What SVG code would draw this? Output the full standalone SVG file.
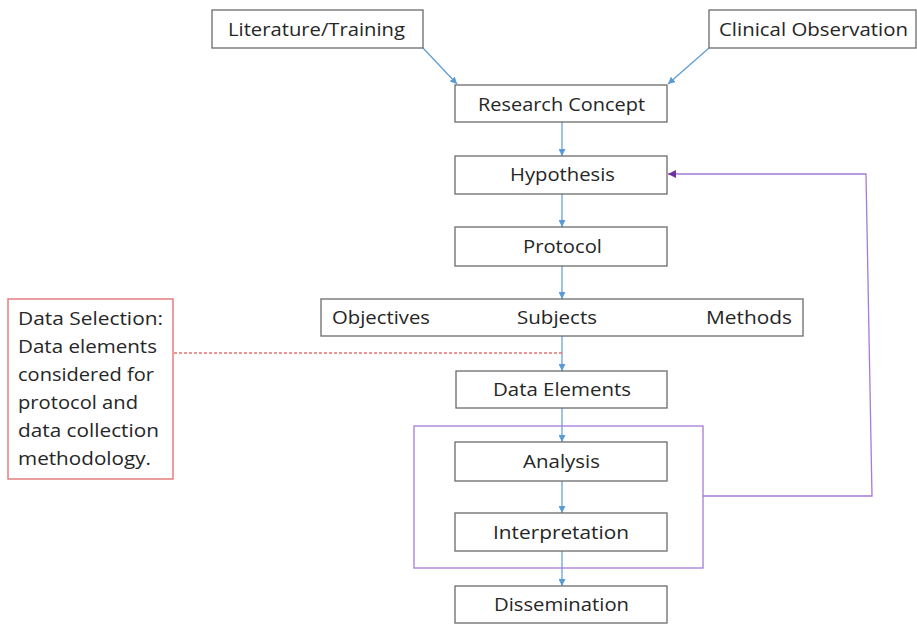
<svg xmlns="http://www.w3.org/2000/svg" width="917" height="624" viewBox="0 0 917 624">
<style>
.box{fill:#fff;stroke:#6b6b6b;stroke-width:1.3}
.t{font-family:"Open Sans","Liberation Sans",sans-serif;font-size:18px;fill:#262626}
.c{stroke:#5b9bd5;stroke-width:1.2;fill:none;marker-end:url(#ab)}
</style>
<defs>
<marker id="ab" viewBox="0 0 10 10" refX="10" refY="5" markerWidth="7" markerHeight="7" markerUnits="userSpaceOnUse" orient="auto"><path d="M0,0 L10,5 L0,10 z" fill="#5b9bd5"/></marker>
<marker id="ap" viewBox="0 0 10 10" refX="10" refY="5" markerWidth="8" markerHeight="8" markerUnits="userSpaceOnUse" orient="auto"><path d="M0,0 L10,5 L0,10 z" fill="#7030a0"/></marker>
</defs>
<rect width="917" height="624" fill="#fff"/>
<g id="connectors">
<line class="c" x1="423" y1="48" x2="457" y2="84"/>
<line class="c" x1="709" y1="48" x2="668" y2="84"/>
<line class="c" x1="562" y1="122" x2="562" y2="156"/>
<line class="c" x1="562" y1="194" x2="562" y2="227"/>
<line class="c" x1="562" y1="266" x2="562" y2="299"/>
<line class="c" x1="562" y1="336" x2="562" y2="371"/>
<line class="c" x1="562" y1="408" x2="562" y2="442"/>
<line class="c" x1="562" y1="481" x2="562" y2="513"/>
<line class="c" x1="562" y1="551" x2="562" y2="586"/>
<polyline points="703,496 872,496 866,174 668,174" fill="none" stroke="#a57bd6" stroke-width="1.3" marker-end="url(#ap)"/>
<line x1="174" y1="353" x2="562" y2="353" stroke="#e57373" stroke-width="1.3" stroke-dasharray="3,2"/>
</g>
<g id="literature"><rect class="box" x="212" y="10" width="211" height="38"/><text class="t" x="228" y="36" textLength="177" lengthAdjust="spacingAndGlyphs">Literature/Training</text></g>
<g id="clinical"><rect class="box" x="709" y="10" width="207" height="38"/><text class="t" x="719" y="36" textLength="189" lengthAdjust="spacingAndGlyphs">Clinical Observation</text></g>
<g id="research"><rect class="box" x="455" y="85" width="212" height="37"/><text class="t" x="478" y="111" textLength="167" lengthAdjust="spacingAndGlyphs">Research Concept</text></g>
<g id="hypothesis"><rect class="box" x="455" y="156" width="212" height="38"/><text class="t" x="510" y="181" textLength="105" lengthAdjust="spacingAndGlyphs">Hypothesis</text></g>
<g id="protocol"><rect class="box" x="455" y="227" width="212" height="39"/><text class="t" x="523" y="253" textLength="79" lengthAdjust="spacingAndGlyphs">Protocol</text></g>
<g id="osm"><rect class="box" x="321" y="299" width="482" height="37"/>
<text class="t" x="332" y="324" textLength="98" lengthAdjust="spacingAndGlyphs">Objectives</text>
<text class="t" x="517" y="324" textLength="80" lengthAdjust="spacingAndGlyphs">Subjects</text>
<text class="t" x="706" y="324" textLength="86" lengthAdjust="spacingAndGlyphs">Methods</text></g>
<g id="dataselection"><rect x="8" y="299" width="165" height="180" fill="#fff" stroke="#e06b6b" stroke-width="1.3"/>
<text class="t" x="18" y="325" textLength="145" lengthAdjust="spacingAndGlyphs">Data Selection:</text>
<text class="t" x="18" y="353" textLength="139" lengthAdjust="spacingAndGlyphs">Data elements</text>
<text class="t" x="18" y="381" textLength="136" lengthAdjust="spacingAndGlyphs">considered for</text>
<text class="t" x="18" y="409" textLength="120" lengthAdjust="spacingAndGlyphs">protocol and</text>
<text class="t" x="18" y="437" textLength="141" lengthAdjust="spacingAndGlyphs">data collection</text>
<text class="t" x="18" y="465" textLength="133" lengthAdjust="spacingAndGlyphs">methodology.</text></g>
<g id="dataelements"><rect class="box" x="456" y="371" width="211" height="37"/><text class="t" x="493" y="396" textLength="138" lengthAdjust="spacingAndGlyphs">Data Elements</text></g>
<g id="loop"><rect x="414" y="426" width="289" height="142" fill="none" stroke="#a57bd6" stroke-width="1.3"/></g>
<g id="analysis"><rect class="box" x="455" y="442" width="212" height="39"/><text class="t" x="523" y="468" textLength="77" lengthAdjust="spacingAndGlyphs">Analysis</text></g>
<g id="interpretation"><rect class="box" x="455" y="513" width="212" height="38"/><text class="t" x="493" y="539" textLength="136" lengthAdjust="spacingAndGlyphs">Interpretation</text></g>
<g id="dissemination"><rect class="box" x="455" y="586" width="212" height="37"/><text class="t" x="494" y="611" textLength="135" lengthAdjust="spacingAndGlyphs">Dissemination</text></g>
</svg>
